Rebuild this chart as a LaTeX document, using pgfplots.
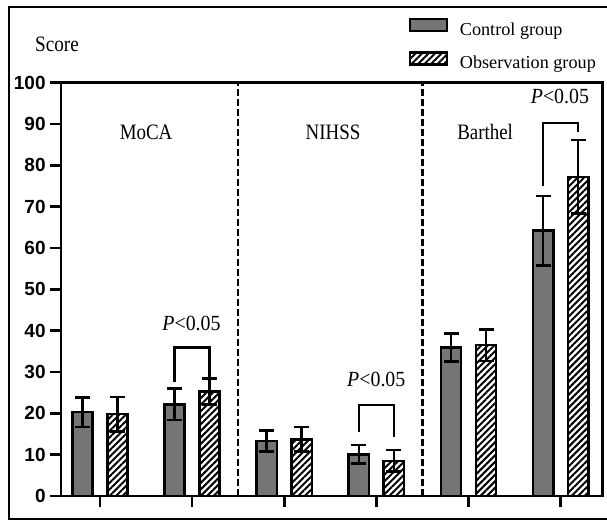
\documentclass[border=0pt]{standalone}
\usepackage{pgfplots}
\pgfplotsset{compat=1.18}
\usetikzlibrary{patterns.meta}
\usepackage{fontspec}
\setmainfont{Liberation Serif}
\newfontfamily\arial{Liberation Sans}
\definecolor{ctrl}{RGB}{117,117,117}
\newcommand{\cond}[2]{\scalebox{#1}[1]{#2}}

\begin{document}
\begin{tikzpicture}
\useasboundingbox (-30.5pt,-12.5pt) rectangle (273pt,248pt);
\draw[line width=1pt] (285pt,244.25pt) -- (-26pt,244.25pt) -- (-26pt,-11.75pt) -- (285pt,-11.75pt);
\begin{axis}[
  at={(0,0)}, anchor=south west,
  scale only axis, width=270.75pt, height=206.65pt,
  xmin=0.577, xmax=6.454, ymin=0, ymax=100,
  xtick={1,2,3,4,5,6}, xticklabels={},
  ytick={0,10,...,100},
  tick pos=left, tick align=outside,
  major tick length=5.5pt,
  every tick/.style={black, line width=1.3pt},
  axis line style={line width=1.3pt},
  /pgf/number format/assume math mode=true,
  yticklabel style={font=\arial\bfseries\fontsize{9.5}{11}\selectfont, inner sep=2pt},
  legend image code/.code={\draw[#1,line width=1.2pt] (0pt,-0.3pt) rectangle (18.5pt,5.7pt);},
  legend style={at={(axis description cs:0.641,1)}, anchor=south west, yshift=4.8pt,
    draw=none, fill=none, font=\fontsize{9.1}{10}\selectfont,
    row sep=6pt, inner sep=0pt, cells={anchor=west},
    nodes={inner sep=0.5pt},
    /tikz/every odd column/.append style={column sep=5.5pt}},
]
\addplot[ybar, bar width=0.22, bar shift=0pt, fill=ctrl, draw=black, line width=1.3pt,
  error bars/.cd, y dir=both, y explicit,
  error bar style={line width=1.3pt, black, solid},
  error mark options={line width=1.3pt, mark size=3.75pt, black, rotate=90}]
  coordinates {(0.81,20.3) +- (0,3.6) (1.81,22.2) +- (0,3.8) (2.81,13.3) +- (0,2.5)
               (3.81,10.1) +- (0,2.2) (4.81,35.9) +- (0,3.4) (5.81,64.2) +- (0,8.4)};
\addplot[ybar, bar width=0.22, bar shift=0pt, draw=black, line width=1.3pt,
  pattern={Lines[angle=45,distance=2.3pt,line width=1pt]}, pattern color=black,
  error bars/.cd, y dir=both, y explicit,
  error bar style={line width=1.3pt, black, solid},
  error mark options={line width=1.3pt, mark size=3.75pt, black, rotate=90}]
  coordinates {(1.19,19.8) +- (0,4.2) (2.19,25.3) +- (0,3.2) (3.19,13.7) +- (0,3.0)
               (4.19,8.5) +- (0,2.6) (5.19,36.5) +- (0,3.8) (6.19,77.2) +- (0,8.9)};
\legend{Control group, Observation group}
\addplot[forget plot, black, line width=1.1pt, dash pattern=on 3.3pt off 1.7pt] coordinates {(2.5,0) (2.5,100)};
\addplot[forget plot, black, line width=1.1pt, dash pattern=on 3.3pt off 1.7pt] coordinates {(4.5,0) (4.5,100)};
\addplot[forget plot, black, line width=1.2pt] coordinates {(1.81,27.7) (1.81,35.9) (2.19,35.9) (2.19,28.9)};
\addplot[forget plot, black, line width=1.2pt] coordinates {(3.81,15.6) (3.81,22.0) (4.19,22.0) (4.19,14.2)};
\addplot[forget plot, black, line width=1.2pt] coordinates {(5.81,75.0) (5.81,90.3) (6.19,90.3) (6.19,88.1)};
\node[font=\fontsize{11}{12}\selectfont] at (axis cs:1.5,88.1) {\cond{0.86}{MoCA}};
\node[font=\fontsize{11}{12}\selectfont] at (axis cs:3.53,88.1) {\cond{0.86}{NIHSS}};
\node[font=\fontsize{11}{12}\selectfont] at (axis cs:5.18,88.1) {\cond{0.86}{Barthel}};
\node[font=\fontsize{10.8}{12}\selectfont] at (axis cs:1.993,41.8) {\cond{0.92}{\textit{P}<0.05}};
\node[font=\fontsize{10.8}{12}\selectfont] at (axis cs:3.999,28.1) {\cond{0.92}{\textit{P}<0.05}};
\node[font=\fontsize{10.8}{12}\selectfont] at (axis cs:5.992,96.6) {\cond{0.92}{\textit{P}<0.05}};
\end{axis}
\node[anchor=base, font=\fontsize{11}{12}\selectfont] at (-2pt,222pt) {\cond{0.87}{Score}};
\end{tikzpicture}
\end{document}
